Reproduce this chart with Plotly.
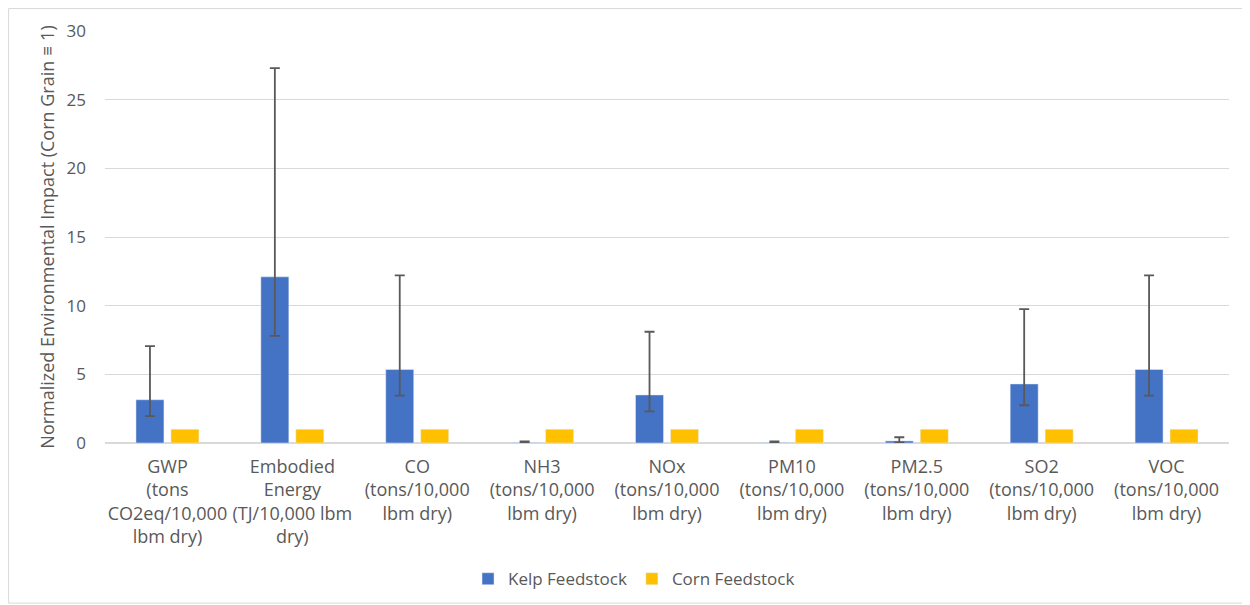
import plotly.graph_objects as go

categories = [
    "GWP<br>(tons<br>CO2eq/10,000<br>lbm dry)",
    "Embodied<br>Energy<br>(TJ/10,000 lbm<br>dry)",
    "CO<br>(tons/10,000<br>lbm dry)",
    "NH3<br>(tons/10,000<br>lbm dry)",
    "NOx<br>(tons/10,000<br>lbm dry)",
    "PM10<br>(tons/10,000<br>lbm dry)",
    "PM2.5<br>(tons/10,000<br>lbm dry)",
    "SO2<br>(tons/10,000<br>lbm dry)",
    "VOC<br>(tons/10,000<br>lbm dry)",
]
kelp = [3.15, 12.1, 5.35, 0.03, 3.5, 0.03, 0.15, 4.3, 5.35]
kelp_high = [7.05, 27.3, 12.2, 0.12, 8.1, 0.12, 0.42, 9.75, 12.2]
kelp_low = [1.95, 7.8, 3.45, 0.0, 2.3, 0.0, 0.05, 2.75, 3.45]
corn = [1, 1, 1, 1, 1, 1, 1, 1, 1]
y_ticks = [0, 5, 10, 15, 20, 25, 30]

err_plus = [h - v for h, v in zip(kelp_high, kelp)]
err_minus = [v - l for v, l in zip(kelp, kelp_low)]

FONT = "Open Sans, Lato, sans-serif"
TXT = "#595959"

W, H = 1242, 597
L, T, PW, PH = 96.5, 22.5, 1125, 413

fig = go.Figure()
fig.add_trace(go.Bar(
    name="Kelp Feedstock", x=categories, y=kelp,
    marker=dict(color="#4472C4"),
    error_y=dict(type="data", symmetric=False, array=err_plus, arrayminus=err_minus,
                 color="#595959", thickness=1.8, width=5),
))
fig.add_trace(go.Bar(
    name="Corn Feedstock", x=categories, y=corn,
    marker=dict(color="#FFC000"),
))

fig.update_layout(
    width=W, height=H,
    margin=dict(l=L, r=W - L - PW, t=T, b=H - T - PH, autoexpand=False),
    paper_bgcolor="white", plot_bgcolor="white",
    barmode="group", bargap=0.44, bargroupgap=0.2,
    font=dict(family=FONT, size=16, color=TXT),
    showlegend=True,
    legend=dict(orientation="h", x=(626 - L) / PW, xanchor="center",
                y=-(572 - T - PH) / PH, yanchor="middle",
                font=dict(family=FONT, size=17, color=TXT), traceorder="normal",
                itemwidth=30),
    xaxis=dict(showgrid=False, showline=False, ticks="", tickangle=0,
               ticklabelstandoff=11, automargin=False,
               tickfont=dict(family=FONT, size=18, color=TXT)),
    yaxis=dict(range=[0, 30], tickvals=y_ticks, showgrid=True, gridcolor="#D9D9D9",
               gridwidth=1, zeroline=True, zerolinecolor="#D9D9D9", zerolinewidth=1.5,
               ticks="", ticklen=0, ticklabelstandoff=18, automargin=False,
               tickfont=dict(family=FONT, size=17, color=TXT),
               title=dict(text="Normalized Environmental Impact (Corn Grain ≡ 1)",
                          font=dict(family=FONT, size=18, color=TXT), standoff=7)),
    shapes=[dict(type="rect", xref="paper", yref="paper",
                 x0=-L / PW, x1=(W - 1 - L) / PW, y0=-(H - 1 - T - PH) / PH, y1=(PH + T) / PH,
                 line=dict(color="#D9D9D9", width=1), fillcolor="rgba(0,0,0,0)", layer="below")],
)

fig.write_html("out.html")
